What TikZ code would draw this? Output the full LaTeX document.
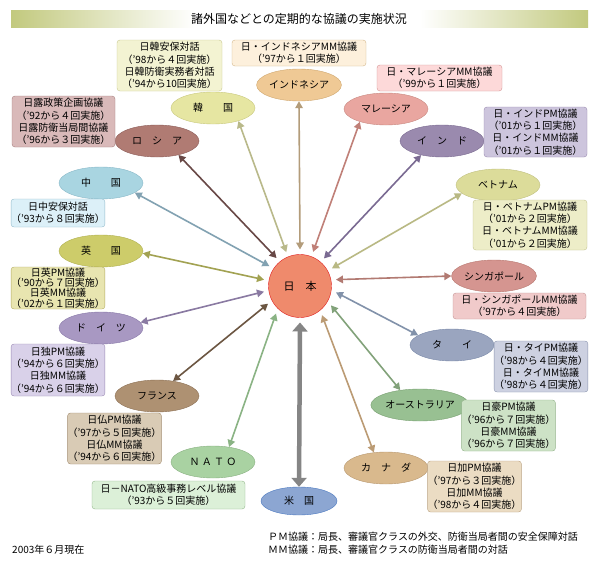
\documentclass[tikz,border=0pt]{standalone}
\usepackage{fontspec}
\setmainfont{Noto Sans CJK JP}
\usetikzlibrary{shapes.geometric,arrows.meta}

% colores: relleno (f), borde (d), cuadro (b), borde cuadro (l), flecha (c)
\definecolor{barra}{HTML}{C2C97E}
\definecolor{fJp}{HTML}{EF8A6C}\definecolor{dJp}{HTML}{E02020}
\definecolor{fKr}{HTML}{E6E6A2}\definecolor{dKr}{HTML}{C8C87C}\definecolor{bKr}{HTML}{F3F3D2}\definecolor{lKr}{HTML}{C8C890}\definecolor{cKr}{HTML}{B9B98A}
\definecolor{fRu}{HTML}{B07B73}\definecolor{dRu}{HTML}{8C5C58}\definecolor{bRu}{HTML}{D9B9B9}\definecolor{lRu}{HTML}{A88080}\definecolor{cRu}{HTML}{684846}
\definecolor{fId}{HTML}{EFC995}\definecolor{dId}{HTML}{D0A870}\definecolor{bId}{HTML}{FDF0DC}\definecolor{lId}{HTML}{D4B88C}\definecolor{cId}{HTML}{B39C7A}
\definecolor{fMy}{HTML}{E9A6A0}\definecolor{dMy}{HTML}{C88880}\definecolor{bMy}{HTML}{FDD9D9}\definecolor{lMy}{HTML}{D49494}\definecolor{cMy}{HTML}{C08078}
\definecolor{fIn}{HTML}{9A8AAE}\definecolor{dIn}{HTML}{7A6A90}\definecolor{bIn}{HTML}{CDC5DD}\definecolor{lIn}{HTML}{9A8AB0}\definecolor{cIn}{HTML}{7A6A92}
\definecolor{fVn}{HTML}{DCDC9A}\definecolor{dVn}{HTML}{C0C080}\definecolor{bVn}{HTML}{EDEDC8}\definecolor{lVn}{HTML}{C4C490}\definecolor{cVn}{HTML}{B9B984}
\definecolor{fSg}{HTML}{D59590}\definecolor{dSg}{HTML}{B87870}\definecolor{bSg}{HTML}{F0CACA}\definecolor{lSg}{HTML}{C49494}\definecolor{cSg}{HTML}{B27A72}
\definecolor{fTh}{HTML}{9AA5BF}\definecolor{dTh}{HTML}{7888A8}\definecolor{bTh}{HTML}{CDD1E1}\definecolor{lTh}{HTML}{8A94AE}\definecolor{cTh}{HTML}{8292AA}
\definecolor{fAu}{HTML}{98C092}\definecolor{dAu}{HTML}{78A070}\definecolor{bAu}{HTML}{CDE2C6}\definecolor{lAu}{HTML}{94B48C}\definecolor{cAu}{HTML}{82A27A}
\definecolor{fCa}{HTML}{D9B98D}\definecolor{dCa}{HTML}{B89870}\definecolor{bCa}{HTML}{EBDCC3}\definecolor{lCa}{HTML}{BCA484}\definecolor{cCa}{HTML}{BB9B74}
\definecolor{fUs}{HTML}{8CA6D2}\definecolor{dUs}{HTML}{4A78C0}\definecolor{cUs}{HTML}{858585}
\definecolor{fNa}{HTML}{A9D2A2}\definecolor{dNa}{HTML}{88B080}\definecolor{bNa}{HTML}{DCF0D8}\definecolor{lNa}{HTML}{94B88C}\definecolor{cNa}{HTML}{8AB384}
\definecolor{fFr}{HTML}{AE9172}\definecolor{dFr}{HTML}{8C7054}\definecolor{bFr}{HTML}{D9CBB5}\definecolor{lFr}{HTML}{A48E72}\definecolor{cFr}{HTML}{6C5642}
\definecolor{fDe}{HTML}{A898C2}\definecolor{dDe}{HTML}{8878A8}\definecolor{bDe}{HTML}{D9D1E9}\definecolor{lDe}{HTML}{9A8AB4}\definecolor{cDe}{HTML}{8A7AA2}
\definecolor{fUk}{HTML}{CDCC6A}\definecolor{dUk}{HTML}{B0B050}\definecolor{bUk}{HTML}{E8E5B0}\definecolor{lUk}{HTML}{B4AC62}\definecolor{cUk}{HTML}{A2A252}
\definecolor{fCn}{HTML}{A9D5E1}\definecolor{dCn}{HTML}{88B8C8}\definecolor{bCn}{HTML}{DCF0F8}\definecolor{lCn}{HTML}{94BCCC}\definecolor{cCn}{HTML}{82A2B2}

\newcommand{\nodosPaises}{
\node[centro] (jp) at (300,286) {日　本};
\node[pais,fill=fKr,draw=dKr] (kr) at (213,108) {韓　　国};
\node[pais,fill=fRu,draw=dRu] (ru) at (157,141) {ロ　シ　ア};
\node[pais,fill=fId,draw=dId] (id) at (299,85) {インドネシア};
\node[pais,fill=fMy,draw=dMy] (my) at (386,109) {マレーシア};
\node[pais,fill=fIn,draw=dIn] (in) at (442,141) {イ　ン　ド};
\node[pais,fill=fVn,draw=dVn] (vn) at (498,185) {ベトナム};
\node[pais,fill=fSg,draw=dSg] (sg) at (494,276) {シンガポール};
\node[pais,fill=fTh,draw=dTh] (th) at (452,345) {タ　　イ};
\node[pais,fill=fAu,draw=dAu] (au) at (420,405) {オーストラリア};
\node[pais,fill=fCa,draw=dCa] (ca) at (386,468) {カ　ナ　ダ};
\node[pais,fill=fUs,draw=dUs,minimum width=76pt,minimum height=28pt] (us) at (299,501) {米　国};
\node[pais,fill=fNa,draw=dNa] (na) at (213,462) {Ｎ Ａ Ｔ Ｏ};
\node[pais,fill=fFr,draw=dFr] (fr) at (157,396) {フランス};
\node[pais,fill=fDe,draw=dDe] (de) at (101,328) {ド　イ　ツ};
\node[pais,fill=fUk,draw=dUk] (uk) at (101,251) {英　　国};
\node[pais,fill=fCn,draw=dCn] (cn) at (101,183) {中　　国};
}
\newcommand{\cuadrosPaises}{
\node[cuadro,fill=bKr,draw=lKr,minimum width=105pt,minimum height=51pt] (krT) at (169.5,65.5) {日韓安保対話\\（'98から４回実施）\\日韓防衛実務者対話\\（'94から10回実施）};
\node[cuadro,fill=bRu,draw=lRu,minimum width=103pt,minimum height=51pt] (ruT) at (63.5,121.5) {日露政策企画協議\\（'92から４回実施）\\日露防衛当局間協議\\（'96から３回実施）};
\node[cuadro,fill=bId,draw=lId,minimum width=134pt,minimum height=26pt] (idT) at (299,53) {日・インドネシアMM協議\\（'97から１回実施）};
\node[cuadro,fill=bMy,draw=lMy,minimum width=125pt,minimum height=26pt] (myT) at (439.5,78) {日・マレーシアMM協議\\（'99から１回実施）};
\node[cuadro,fill=bIn,draw=lIn,minimum width=103pt,minimum height=50pt] (inT) at (535.5,132) {日・インドPM協議\\（'01から１回実施）\\日・インドMM協議\\（'01から１回実施）};
\node[cuadro,fill=bVn,draw=lVn,minimum width=114pt,minimum height=50pt] (vnT) at (530,225) {日・ベトナムPM協議\\（'01から２回実施）\\日・ベトナムMM協議\\（'01から２回実施）};
\node[cuadro,fill=bSg,draw=lSg,minimum width=133pt,minimum height=26pt] (sgT) at (519.5,306) {日・シンガポールMM協議\\（'97から４回実施）};
\node[cuadro,fill=bTh,draw=lTh,minimum width=92pt,minimum height=51pt] (thT) at (541,366.5) {日・タイPM協議\\（'98から４回実施）\\日・タイMM協議\\（'98から４回実施）};
\node[cuadro,fill=bAu,draw=lAu,minimum width=93pt,minimum height=51pt] (auT) at (508.5,425.5) {日豪PM協議\\（'96から７回実施）\\日豪MM協議\\（'96から７回実施）};
\node[cuadro,fill=bCa,draw=lCa,minimum width=93pt,minimum height=51pt] (caT) at (474.5,486.5) {日加PM協議\\（'97から３回実施）\\日加MM協議\\（'98から４回実施）};
\node[cuadro,fill=bNa,draw=lNa,minimum width=153pt,minimum height=28pt] (naT) at (168.5,495) {日－NATO高級事務レベル協議\\（'93から５回実施）};
\node[cuadro,fill=bFr,draw=lFr,minimum width=93pt,minimum height=51pt] (frT) at (114.5,438.5) {日仏PM協議\\（'97から５回実施）\\日仏MM協議\\（'94から６回実施）};
\node[cuadro,fill=bDe,draw=lDe,minimum width=92pt,minimum height=52pt] (deT) at (58,370) {日独PM協議\\（'94から６回実施）\\日独MM協議\\（'94から６回実施）};
\node[cuadro,fill=bUk,draw=lUk,minimum width=92pt,minimum height=42pt,font=\fontsize{10}{10.4}\selectfont] (ukT) at (58,288) {日英PM協議\\（'90から７回実施）\\日英MM協議\\（'02から１回実施）};
\node[cuadro,fill=bCn,draw=lCn,minimum width=92pt,minimum height=28pt] (cnT) at (58,213) {日中安保対話\\（'93から８回実施）};
}
\newcommand{\flechasPaises}{
\draw[flecha,cKr] (jp.112) -- (kr.-27);
\draw[flecha,cRu] (jp.130) -- (ru.-33);
\draw[flecha,cId] (jp.90) -- (id.-90);
\draw[flecha,cMy] (jp.69) -- (my.-154);
\draw[flecha,cIn] (jp.49) -- (in.-146);
\draw[flecha,cVn] (jp.29) -- (vn.-167);
\draw[flecha,cSg] (jp.10) -- (sg.180);
\draw[flecha,cTh] (jp.-10) -- (th.164);
\draw[flecha,cAu] (jp.-32) -- (au.143);
\draw[flecha,cCa] (jp.-53) -- (ca.128);
\draw[flechaGruesa,cUs] (jp.-90) -- (us.90);
\draw[flecha,cNa] (jp.-131) -- (na.43);
\draw[flecha,cFr] (jp.-151) -- (fr.43);
\draw[flecha,cDe] (jp.-171) -- (de.8);
\draw[flecha,cUk] (jp.170) -- (uk.-3);
\draw[flecha,cCn] (jp.147) -- (cn.-16);
}
\tikzset{
centro/.style={circle,draw=dJp,fill=fJp,minimum size=63pt,inner sep=0pt,outer sep=5pt,font=\fontsize{11}{13}\selectfont},
pais/.style={ellipse,draw,minimum width=84pt,minimum height=32pt,inner sep=0pt,font=\fontsize{10}{12}\selectfont},
cuadro/.style={draw,rounded corners=3pt,align=center,inner sep=0pt,font=\fontsize{10}{12.4}\selectfont},
flecha/.style={line width=1.6pt,{Triangle[length=7pt,width=7.5pt]}-{Triangle[length=7pt,width=7.5pt]}},
flechaGruesa/.style={line width=4.5pt,{Triangle[length=9pt,width=15pt]}-{Triangle[length=9pt,width=15pt]}},
nota/.style={anchor=west,inner sep=0pt,font=\fontsize{10}{12}\selectfont}
}

\begin{document}
\begin{tikzpicture}[x=1pt,y=-1pt]
    \useasboundingbox[fill=white] (0,0) rectangle (598,565);
    \shade[left color=barra,right color=white] (11,10) rectangle (195,27);
    \shade[left color=white,right color=barra] (420,10) rectangle (588,27);
    \node[font=\fontsize{12}{14}\selectfont] (titulo) at (299,18.5) {諸外国などとの定期的な協議の実施状況};

    \nodosPaises
    \cuadrosPaises
    \flechasPaises

    \node[nota] (fecha) at (12,550) {2003年６月現在};
    \node[nota] (pm) at (268,537) {ＰＭ協議：局長、審議官クラスの外交、防衛当局者間の安全保障対話};
    \node[nota] (mm) at (268,550) {ＭＭ協議：局長、審議官クラスの防衛当局者間の対話};
\end{tikzpicture}
\end{document}
